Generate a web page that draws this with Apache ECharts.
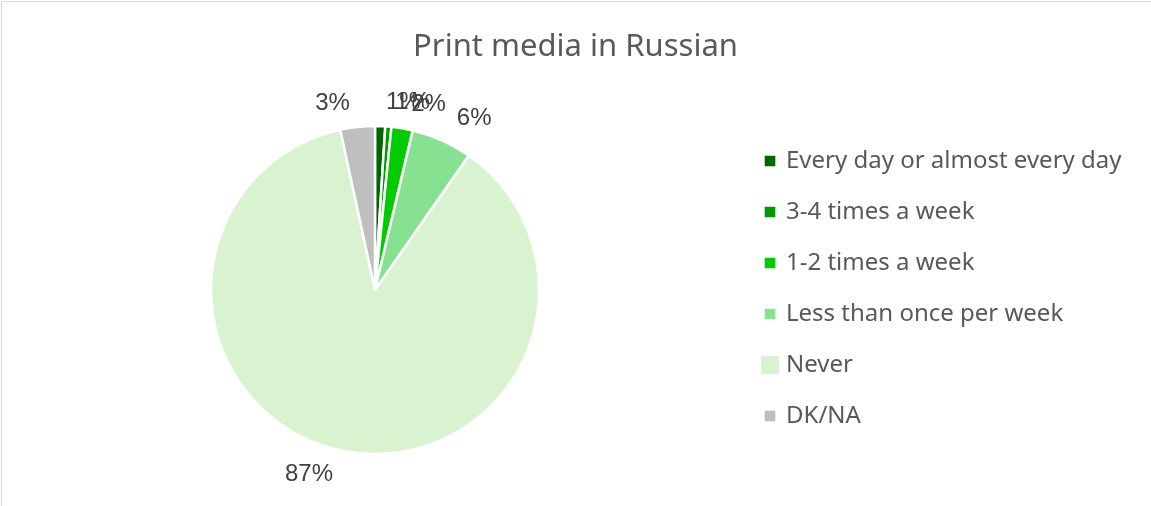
<!DOCTYPE html>
<html>
<head>
<meta charset="utf-8">
<title>Print media in Russian</title>
<script src="https://cdn.jsdelivr.net/npm/echarts@6/dist/echarts.min.js"></script>
<style>
  html, body { margin: 0; padding: 0; background: #ffffff; }
  #chart { width: 1151px; height: 506px; }
</style>
</head>
<body>
<div id="chart"></div>
<script>
// Frequency categories and their shares (percent of respondents)
const categories = [
  'Every day or almost every day',
  '3-4 times a week',
  '1-2 times a week',
  'Less than once per week',
  'Never',
  'DK/NA'
];
const shares = [1.0, 0.6, 2.1, 6.0, 86.9, 3.4];
const colors = ['#006600', '#009900', '#00CC00', '#86E191', '#D9F2D0', '#BFBFBF'];

// Legend swatch: small square inside a transparent 19x19 box
const smallSwatch = 'path://M0,0M19,19M3.5,3.5h12v12h-12z';
const largeSwatch = 'path://M0,0M19,19M0,0h19v19h-19z';

const chart = echarts.init(document.getElementById('chart'));

chart.setOption({
  backgroundColor: '#ffffff',
  animation: false,
  title: {
    text: 'Print media in Russian',
    left: 'center',
    top: 27,
    textStyle: {
      fontFamily: 'Noto Sans',
      fontSize: 31,
      fontWeight: 'normal',
      color: '#595959'
    }
  },
  legend: {
    orient: 'vertical',
    left: 754,
    top: 144,
    itemWidth: 20,
    itemHeight: 20,
    itemGap: 27,
    selectedMode: false,
    data: categories.map(function (name, i) {
      return { name: name, icon: name === 'Never' ? largeSwatch : smallSwatch };
    }),
    textStyle: {
      fontFamily: 'Noto Sans',
      fontSize: 24,
      color: '#595959',
      padding: [0, 0, 0, 1]
    }
  },
  graphic: [{
    type: 'rect',
    shape: { x: 1.5, y: 1.5, width: 1200, height: 600 },
    style: { fill: 'none', stroke: '#D9D9D9', lineWidth: 1 },
    silent: true
  }],
  series: [{
    type: 'pie',
    center: [375, 290],
    radius: 164,
    startAngle: 90,
    clockwise: true,
    avoidLabelOverlap: false,
    minShowLabelAngle: 0,
    itemStyle: { borderColor: '#ffffff', borderWidth: 2.5 },
    label: {
      show: true,
      position: 'outside',
      formatter: function (p) { return Math.round(p.value) + '%'; },
      fontFamily: 'Liberation Sans',
      fontSize: 24,
      color: '#404040'
    },
    labelLayout: { hideOverlap: false },
    labelLine: { show: false, length: 24, length2: 0 },
    data: categories.map(function (name, i) {
      return { name: name, value: shares[i], itemStyle: { color: colors[i] } };
    })
  }]
});
</script>
</body>
</html>
